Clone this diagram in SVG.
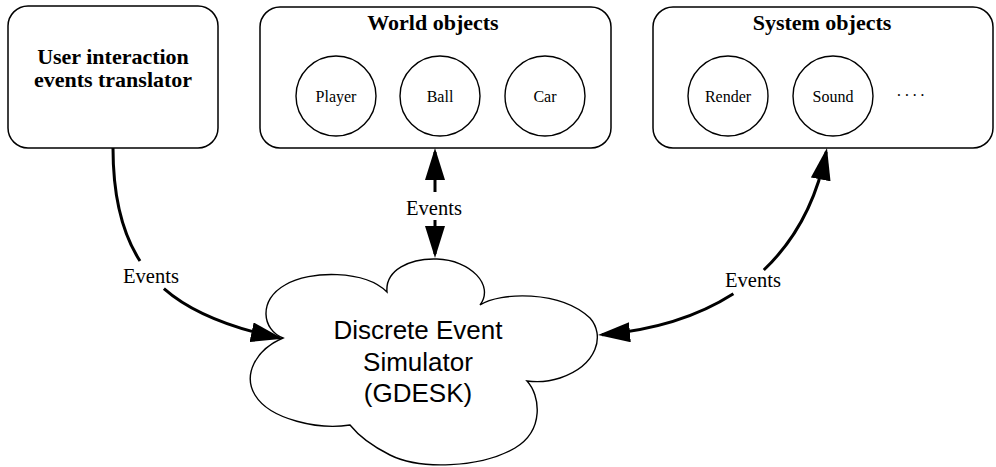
<svg xmlns="http://www.w3.org/2000/svg" width="996" height="467" viewBox="0 0 996 467">
  <style>
    .box { fill: #fff; stroke: #000; stroke-width: 1.5; }
    .obj { fill: #fff; stroke: #000; stroke-width: 1.4; }
    .title { font-family: "Liberation Serif", "Times New Roman", serif; font-weight: bold; font-size: 22px; text-anchor: middle; fill: #000; }
    .item { font-family: "Liberation Serif", "Times New Roman", serif; font-size: 16px; text-anchor: middle; fill: #000; }
    .lbl { font-family: "Liberation Serif", "Times New Roman", serif; font-size: 20.5px; text-anchor: middle; fill: #000; }
    .sim { font-family: "Liberation Sans", Arial, sans-serif; font-size: 26px; text-anchor: middle; fill: #000; }
    .link { fill: none; stroke: #000; stroke-width: 3; marker-end: url(#head); }
  </style>
  <defs>
    <marker id="head" markerUnits="userSpaceOnUse" viewBox="0 0 32 20" markerWidth="32" markerHeight="20" refX="28" refY="10" orient="auto">
      <path d="M0,0 L32,10 L0,20 Z" fill="#000"/>
    </marker>
  </defs>

  <!-- input translator -->
  <g id="translator">
    <rect class="box" x="8" y="6" width="210" height="142" rx="20" ry="20"/>
    <text class="title" x="113" y="64">User interaction</text>
    <text class="title" x="113" y="87">events translator</text>
  </g>

  <!-- world objects container -->
  <g id="world-objects">
    <rect class="box" x="260" y="7" width="351" height="141" rx="20" ry="20"/>
    <text class="title" x="433" y="30">World objects</text>
    <g id="player">
      <circle class="obj" cx="336" cy="96" r="40"/>
      <text class="item" x="336" y="101.5">Player</text>
    </g>
    <g id="ball">
      <circle class="obj" cx="440" cy="96" r="40"/>
      <text class="item" x="440" y="101.5">Ball</text>
    </g>
    <g id="car">
      <circle class="obj" cx="545" cy="96" r="40"/>
      <text class="item" x="545" y="101.5">Car</text>
    </g>
  </g>

  <!-- system objects container -->
  <g id="system-objects">
    <rect class="box" x="653" y="7" width="340" height="141" rx="20" ry="20"/>
    <text class="title" x="822" y="30">System objects</text>
    <g id="render">
      <circle class="obj" cx="728" cy="96" r="40"/>
      <text class="item" x="728" y="101.5">Render</text>
    </g>
    <g id="sound">
      <circle class="obj" cx="833" cy="96" r="40"/>
      <text class="item" x="833" y="101.5">Sound</text>
    </g>
    <text class="item" x="912" y="101" letter-spacing="2.5">····</text>
  </g>

  <!-- event simulator cloud -->
  <g id="simulator">
    <path class="obj" d="M283,338 C262,330 258,300 285,285 C310,270 365,270 387,292
      C385,270 410,258 437,259 C470,260 495,285 480,305
      C500,292 560,290 590,318 C605,335 598,365 560,378 C545,383 535,382 527,381
      C540,395 545,430 515,448 C480,468 420,470 390,455 C372,446 358,435 350,425
      C320,430 270,420 255,395 C243,375 255,350 283,338 Z"/>
    <text class="sim" x="418" y="339">Discrete Event</text>
    <text class="sim" x="418" y="371">Simulator</text>
    <text class="sim" x="418" y="402">(GDESK)</text>
  </g>

  <!-- event flows -->
  <g id="connectors">
    <path class="link" style="marker-end:none" d="M113,148 C113,196.8 122.1,233.3 140,261"/>
    <path class="link" d="M163.9,288.6 C191.4,312.85 229.95,327.65 279,338"/>
    <text class="lbl" x="151" y="283">Events</text>

    <path class="link" d="M435,192 L435,152"/>
    <path class="link" d="M435,220 L435,254"/>
    <text class="lbl" x="434" y="215">Events</text>

    <path class="link" d="M763.8,270 Q811.7,224.5 826.2,151.9"/>
    <path class="link" d="M733.4,293.7 Q679.9,327.9 602,334.7"/>
    <text class="lbl" x="753" y="287">Events</text>
  </g>
</svg>
